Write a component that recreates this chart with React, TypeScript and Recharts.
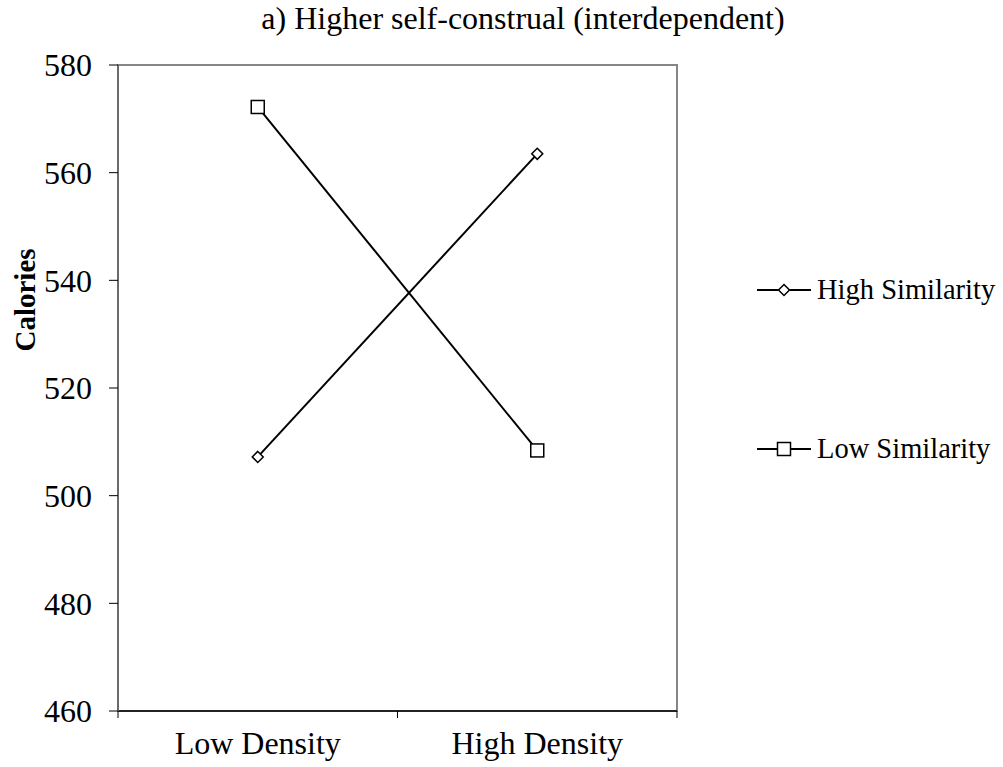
import React from 'react';
import { LineChart, Line, XAxis, YAxis, Legend, ReferenceArea } from 'recharts';

const categories = ['Low Density', 'High Density'];
const highSimilarity = [507.2, 563.5];
const lowSimilarity = [572.2, 508.4];
const yTicks = [460, 480, 500, 520, 540, 560, 580];
const title = 'a) Higher self-construal (interdependent)';
const yLabel = 'Calories';

const data = categories.map((c, i) => ({ cat: c, high: highSimilarity[i], low: lowSimilarity[i] }));

const FONT = '"Liberation Serif", "Times New Roman", serif';

const Diamond = (props: any) => {
  const { cx, cy } = props;
  if (cx == null || cy == null) return null;
  const r = 5.5;
  return <path d={`M${cx},${cy - r}L${cx + r},${cy}L${cx},${cy + r}L${cx - r},${cy}Z`} fill="#fff" stroke="#000" strokeWidth={1.5} />;
};
const Square = (props: any) => {
  const { cx, cy } = props;
  if (cx == null || cy == null) return null;
  const r = 6.5;
  return <rect x={cx - r} y={cy - r} width={2 * r} height={2 * r} fill="#fff" stroke="#000" strokeWidth={1.5} />;
};

const XTick = (props: any) => {
  const { x, y, payload, index, visibleTicksCount } = props;
  const off = payload && payload.offset != null ? payload.offset : 0;
  const last = index === (visibleTicksCount ?? categories.length) - 1;
  return (
    <g>
      <line x1={x - off} y1={y} x2={x - off} y2={y + 7} stroke="#000" strokeWidth={1} />
      {last && <line x1={x + off} y1={y} x2={x + off} y2={y + 7} stroke="#000" strokeWidth={1} />}
      <text x={x} y={y + 43} textAnchor="middle" fontFamily={FONT} fontSize={32} fill="#000">{payload.value}</text>
    </g>
  );
};

const LegendContent = (props: any) => {
  const { payload } = props;
  return (
    <div style={{ fontFamily: FONT, fontSize: 28.5, color: '#000' }}>
      {(payload || []).map((p: any, i: number) => (
        <div key={i} style={{ display: 'flex', alignItems: 'center', height: 40, marginBottom: i === 0 ? 119 : 0 }}>
          <svg width={54} height={20} style={{ marginRight: 6 }}>
            <line x1={0} y1={10} x2={54} y2={10} stroke="#000" strokeWidth={2} />
            {p.dataKey === 'high' ? (
              <path d="M27,4.5L32.5,10L27,15.5L21.5,10Z" fill="#fff" stroke="#000" strokeWidth={1.5} />
            ) : (
              <rect x={20.5} y={3.5} width={13} height={13} fill="#fff" stroke="#000" strokeWidth={1.5} />
            )}
          </svg>
          <span>{p.value}</span>
        </div>
      ))}
    </div>
  );
};

export default function App() {
  return (
    <div style={{ position: 'absolute', left: 0, top: 0, width: 1003, height: 767, background: '#fff' }}>
      <div style={{ position: 'absolute', left: 0, width: 1046, top: 0, textAlign: 'center', fontFamily: FONT, fontSize: 32, color: '#000', whiteSpace: 'nowrap' }}>
        {title}
      </div>
      <div style={{ position: 'absolute', left: 0, top: 300, width: 0, height: 0 }}>
        <div style={{ position: 'absolute', left: 25, top: 0, transform: 'translate(-50%, -50%) rotate(-90deg)', fontFamily: FONT, fontSize: 29, fontWeight: 'bold', whiteSpace: 'nowrap' }}>
          {yLabel}
        </div>
      </div>
      <LineChart width={1003} height={767} data={data} margin={{ top: 65, right: 326, bottom: 0, left: 0 }}>
        <ReferenceArea x1="Low Density" x2="High Density" y1={460} y2={580} fill="none" stroke="#868686" strokeWidth={2} ifOverflow="visible" />
        <XAxis dataKey="cat" scale="band" height={56} tickLine={false} tickSize={0} tickMargin={0} axisLine={{ stroke: '#000', strokeWidth: 1.5 }} tick={<XTick />} interval={0} />
        <YAxis width={118} domain={[460, 580]} ticks={yTicks} interval={0} tickSize={9} tickMargin={17} tickLine={{ stroke: '#000' }} axisLine={{ stroke: '#6a6a6a', strokeWidth: 2 }} tick={{ fontFamily: FONT, fontSize: 32, fill: '#000' }} />
        <Line dataKey="high" name="High Similarity" stroke="#000" strokeWidth={2} dot={<Diamond />} activeDot={false} isAnimationActive={false} />
        <Line dataKey="low" name="Low Similarity" stroke="#000" strokeWidth={2} dot={<Square />} activeDot={false} isAnimationActive={false} />
        <Legend layout="vertical" align="center" verticalAlign="middle" content={<LegendContent />} wrapperStyle={{ position: 'absolute', left: 757, top: 270, width: 246 }} />
      </LineChart>
    </div>
  );
}
